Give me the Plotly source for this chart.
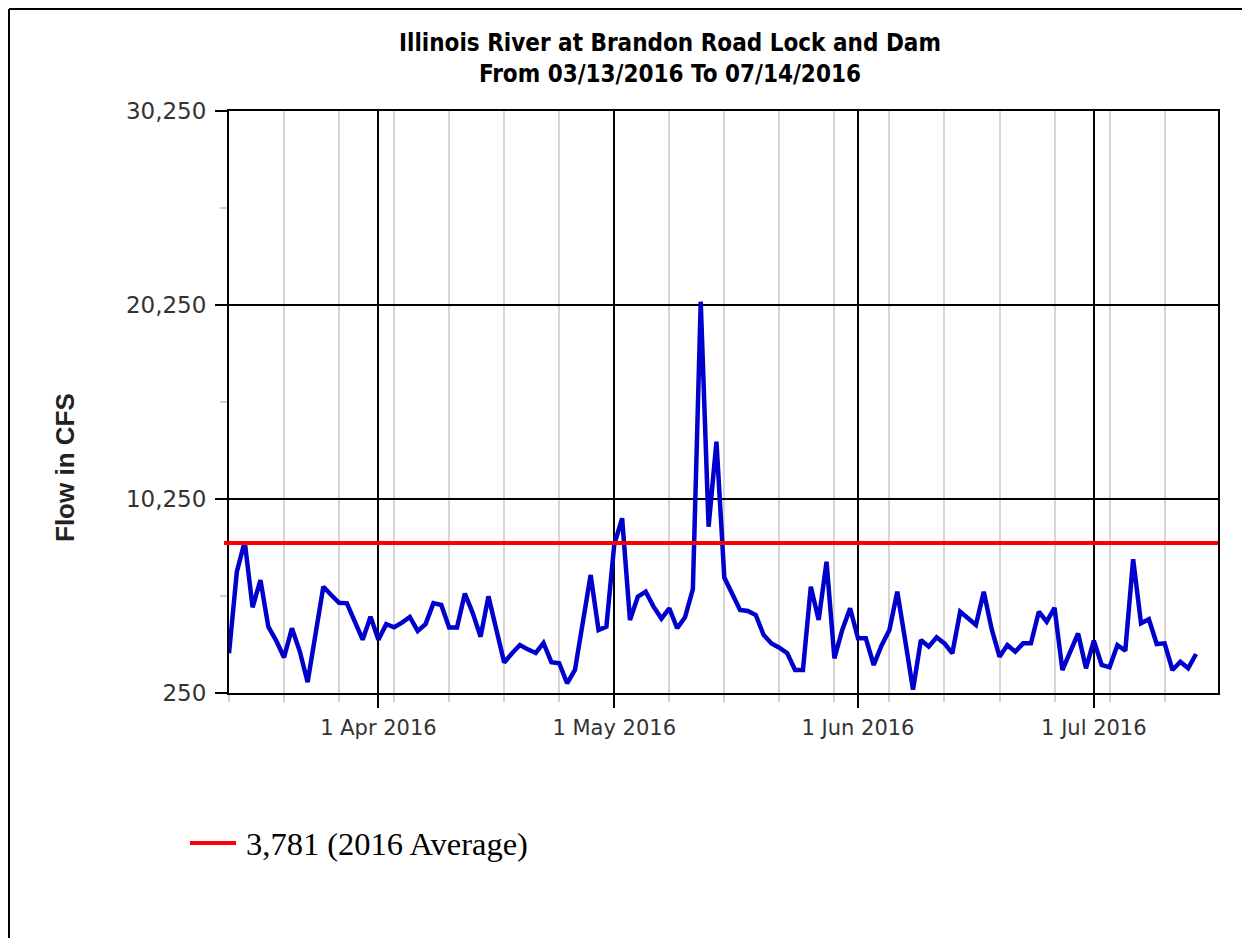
import pandas as pd
import plotly.graph_objects as go

# daily flow (cfs), 13 Mar 2016 .. 14 Jul 2016
dates = pd.date_range("2016-03-13", "2016-07-14", freq="D")
flow_cfs = [
    2297, 6503, 8050, 4668, 6075, 3668, 2950, 2080, 3585, 2400,
    810, 3200, 5730, 5300, 4900, 4870, 4000, 3000, 4183, 3000,
    3800, 3640, 3874, 4170, 3450, 3800, 4880, 4786, 3630, 3630,
    5380, 4370, 3153, 5230, 3520, 1820, 2300, 2724, 2500, 2310,
    2830, 1840, 1781, 750, 1435, 3910, 6333, 3498, 3668, 7900,
    9256, 4013, 5214, 5472, 4700, 4085, 4616, 3585, 4150, 5600,
    20420, 8823, 13205, 6200, 5353, 4529, 4480, 4270, 3240, 2800,
    2585, 2297, 1435, 1435, 5730, 4013, 7018, 2039, 3498, 4616,
    3068, 3068, 1693, 2700, 3498, 5472, 2980, 420, 2982, 2637,
    3120, 2810, 2297, 4441, 4100, 3755, 5472, 3550, 2121, 2724,
    2379, 2810, 2810, 4441, 3925, 4640, 1435, 2400, 3322, 1523,
    2946, 1693, 1572, 2724, 2430, 7144, 3840, 4050, 2776, 2810,
    1435, 1863, 1523, 2260,
]

avg_level = 7980          # where the average line sits on the axis
avg_label = "3,781 (2016 Average)"

y_ticks = [250, 10250, 20250, 30250]
y_tick_text = ["250", "10,250", "20,250", "30,250"]
y_minor = [5250, 15250, 25250]

title_lines = ["Illinois River at Brandon Road Lock and Dam",
               "From 03/13/2016 To 07/14/2016"]

# page has an 8px body margin, so work in page pixels and shift
OFF = 8
W, H = 1242, 930
L, R, T, B = 229 - OFF, 1218 - OFF, 111 - OFF, 693 - OFF


def px(x):
    return (x - OFF - L) / (R - L)


def py(y):
    return (B - (y - OFF)) / (B - T)


fig = go.Figure()

fig.add_trace(go.Scatter(
    x=dates, y=flow_cfs,
    mode="lines",
    line=dict(color="#0000cc", width=4.5),
    showlegend=False,
    hoverinfo="x+y",
))

# average line across the plot
fig.add_shape(type="line", xref="paper", yref="y",
              x0=px(224), x1=1, y0=avg_level, y1=avg_level,
              line=dict(color="#ff0000", width=4))

# legend key drawn by hand
fig.add_shape(type="line", xref="paper", yref="paper",
              x0=px(190), x1=px(236), y0=py(843), y1=py(843),
              line=dict(color="#ff0000", width=4))
fig.add_annotation(xref="paper", yref="paper", x=px(244), y=py(844),
                   xanchor="left", yanchor="middle", showarrow=False,
                   text=avg_label,
                   font=dict(family="Liberation Serif", size=32.5, color="black"))

# outer frame (left and top edges visible)
fig.add_shape(type="line", xref="paper", yref="paper",
              x0=px(9), x1=px(9), y0=py(9), y1=py(960),
              line=dict(color="black", width=2))
fig.add_shape(type="line", xref="paper", yref="paper",
              x0=px(9), x1=px(1260), y0=py(9), y1=py(9),
              line=dict(color="black", width=2))

# title
fig.add_annotation(xref="paper", yref="paper", x=px(670), y=py(58),
                   xanchor="center", yanchor="middle", showarrow=False,
                   text="<b>" + "<br>".join(title_lines) + "</b>",
                   font=dict(family="Liberation Sans Narrow, Arial Narrow, DejaVu Sans Condensed",
                             size=24, color="black"))

# y axis title
fig.add_annotation(xref="paper", yref="paper", x=px(65), y=py(468),
                   xanchor="center", yanchor="middle", showarrow=False,
                   textangle=-90, text="<b>Flow in CFS</b>",
                   font=dict(family="Liberation Sans", size=26, color="#222222"))

fig.update_xaxes(
    type="date",
    range=["2016-03-13", "2016-07-16 19:00"],
    tick0="2016-04-01", dtick="M1",
    tickformat="%-d %b %Y",
    ticks="outside", ticklen=13, tickwidth=2, tickcolor="black",
    ticklabelstandoff=2,
    tickfont=dict(family="DejaVu Sans", size=21, color="#333333"),
    showgrid=True, gridcolor="black", gridwidth=2,
    showline=True, linecolor="black", linewidth=2, mirror=True,
    zeroline=False,
    minor=dict(tick0="2016-03-13", dtick=7 * 86400000,
               ticks="outside", ticklen=7, tickwidth=2, tickcolor="#d0d0d0",
               showgrid=True, gridcolor="#d6d6d6", gridwidth=2),
)

fig.update_yaxes(
    range=[250, 30250],
    tickmode="array", tickvals=y_ticks, ticktext=y_tick_text,
    ticks="outside", ticklen=12, tickwidth=2, tickcolor="black",
    ticklabelstandoff=4,
    tickfont=dict(family="DejaVu Sans", size=23, color="#333333"),
    showgrid=True, gridcolor="black", gridwidth=2,
    showline=True, linecolor="black", linewidth=2, mirror=True,
    zeroline=False,
    minor=dict(tickvals=y_minor, ticks="outside", ticklen=7,
               tickwidth=2, tickcolor="#d0d0d0", showgrid=False),
)

fig.update_layout(
    width=W, height=H,
    margin=dict(l=L, r=W - R, t=T, b=H - B),
    paper_bgcolor="white",
    plot_bgcolor="white",
    showlegend=False,
)

fig.write_html("out.html")
